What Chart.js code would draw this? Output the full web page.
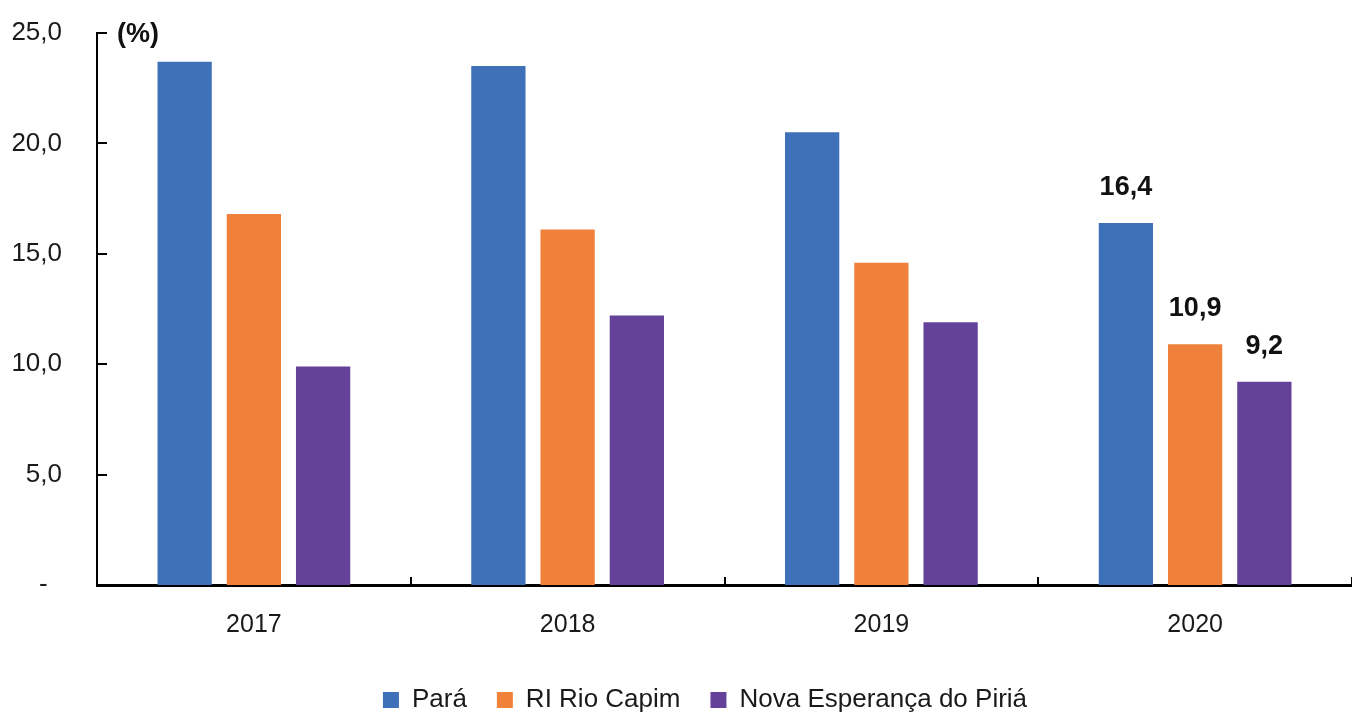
<!DOCTYPE html>
<html>
<head>
<meta charset="utf-8">
<title>Pará x RI Rio Capim x Nova Esperança do Piriá</title>
<script src="https://cdn.jsdelivr.net/npm/chart.js@4.4.1/dist/chart.umd.min.js"></script>
<style>
  html, body { margin: 0; padding: 0; background: #fff; }
  #wrap { width: 1352px; height: 714px; position: relative; }
</style>
</head>
<body>
<div id="wrap"><canvas id="myChart"></canvas></div>
<script>
// data
var years = ['2017', '2018', '2019', '2020'];
var seriesNames = ['Pará', 'RI Rio Capim', 'Nova Esperança do Piriá'];
var para = [23.7, 23.5, 20.5, 16.4];
var rioCapim = [16.8, 16.1, 14.6, 10.9];
var novaEsperanca = [9.9, 12.2, 11.9, 9.2];
var yTicks = [0, 5, 10, 15, 20, 25];
var yTickLabels = ['-  ', '5,0', '10,0', '15,0', '20,0', '25,0'];
var labeledYears = ['2020'];
var unitLabel = '(%)';

var FONT = '"Liberation Sans", Arial, sans-serif';
var TEXT = '#1a1a1a';

function fmt(v) {
    return v.toFixed(1).replace('.', ',');
}

/*--------------- small inner tick marks ---------------*/
var innerTicks = {
    id: 'innerTicks',
    afterDraw: function(chart) {
        var ctx = chart.ctx, x = chart.scales.x, y = chart.scales.y;
        ctx.save();
        ctx.strokeStyle = '#000';
        ctx.lineWidth = 2;
        ctx.beginPath();
        yTicks.forEach(function(v) {
            if (v === 0) return;
            var py = Math.round(y.getPixelForValue(v));
            ctx.moveTo(x.left, py);
            ctx.lineTo(x.left + 10, py);
        });
        for (var i = 1; i <= years.length; i++) {
            var px = Math.round(x.getPixelForValue(i - 0.5));
            ctx.moveTo(px, y.bottom);
            ctx.lineTo(px, y.bottom - 8);
        }
        ctx.stroke();
        ctx.restore();
    }
};

/*--------------- value labels + unit ---------------*/
var valueLabels = {
    id: 'valueLabels',
    afterDatasetsDraw: function(chart) {
        var ctx = chart.ctx;
        ctx.save();
        ctx.font = 'bold 27px ' + FONT;
        ctx.fillStyle = '#111';
        ctx.textAlign = 'center';
        ctx.textBaseline = 'alphabetic';
        chart.data.datasets.forEach(function(ds, d) {
            var meta = chart.getDatasetMeta(d);
            meta.data.forEach(function(bar, i) {
                if (labeledYears.indexOf(years[i]) < 0) return;
                ctx.fillText(fmt(ds.data[i]), bar.x, bar.y - 28);
            });
        });
        ctx.textAlign = 'left';
        ctx.textBaseline = 'middle';
        ctx.fillText(unitLabel, chart.chartArea.left + 20, chart.chartArea.top + 2);
        ctx.restore();
    }
};

/*--------------- nudge the legend into place ---------------*/
var legendPlace = {
    id: 'legendPlace',
    afterLayout: function(chart) {
        var lg = chart.legend;
        var dx = 705 - (lg.left + lg.right) / 2;
        lg.left += dx;
        lg.right += dx;
        var dy = 657 - lg.top;
        lg.top += dy;
        lg.bottom += dy;
    }
};

var ctx = document.getElementById('myChart').getContext('2d');
var myChart = new Chart(ctx, {
    type: 'bar',
    data: {
        labels: years,
        datasets: [{
            label: seriesNames[0],
            data: para,
            backgroundColor: '#3e71b8',
            borderWidth: 0
        }, {
            label: seriesNames[1],
            data: rioCapim,
            backgroundColor: '#f0813a',
            borderWidth: 0
        }, {
            label: seriesNames[2],
            data: novaEsperanca,
            backgroundColor: '#65429a',
            borderWidth: 0
        }]
    },
    options: {
        responsive: true,
        maintainAspectRatio: false,
        animation: false,
        categoryPercentage: 0.662,
        barPercentage: 0.784,
        layout: {
            padding: { top: 33, right: -5, bottom: 0, left: 0 }
        },
        plugins: {
            legend: {
                position: 'bottom',
                labels: {
                    font: { size: 26, family: FONT },
                    color: TEXT,
                    boxWidth: 16,
                    boxHeight: 16,
                    padding: 30
                }
            },
            tooltip: { enabled: false }
        },
        scales: {
            x: {
                grid: { display: false, drawTicks: false },
                border: { display: true, color: '#000', width: 3 },
                ticks: {
                    font: { size: 25, family: FONT },
                    color: TEXT,
                    padding: 25
                },
                afterFit: function(scale) { scale.height = 63; }
            },
            y: {
                min: 0,
                max: 25,
                grid: { display: false, drawTicks: false },
                border: { display: true, color: '#000', width: 2 },
                ticks: {
                    stepSize: 5,
                    padding: 35,
                    font: { size: 26, family: FONT },
                    color: TEXT,
                    callback: function(v) {
                        return yTickLabels[yTicks.indexOf(v)];
                    }
                },
                afterFit: function(scale) {
                    scale.width = 97;
                    scale.paddingTop = 0;
                    scale.paddingBottom = 0;
                }
            }
        }
    },
    plugins: [innerTicks, valueLabels, legendPlace]
});
</script>
</body>
</html>
